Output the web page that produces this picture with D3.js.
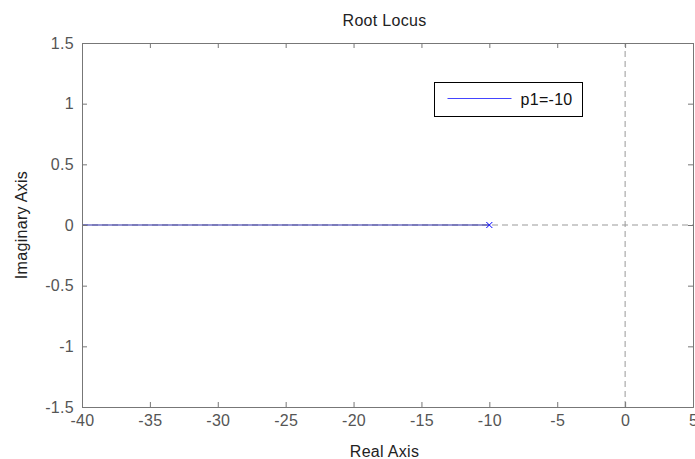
<!DOCTYPE html>
<html>
<head>
<meta charset="utf-8">
<script src="https://cdn.jsdelivr.net/npm/d3@7"></script>
<style>
  body { margin: 0; background: #fff; }
  text { font-family: "Liberation Sans", Arial, sans-serif; }
</style>
</head>
<body>
<div id="chart"></div>
<script>
// data
var xDomain = [-40, 5];
var yDomain = [-1.5, 1.5];
var xTicks = [-40, -35, -30, -25, -20, -15, -10, -5, 0, 5];
var yTicks = [-1.5, -1, -0.5, 0, 0.5, 1, 1.5];
var locusRe = [-40, -10];
var locusIm = [0, 0];
var poles = [{re: -10, im: 0}];
var legendLabel = 'p1=-10';

var W = 695, H = 459;
var m = {left: 82, right: 2, top: 43, bottom: 52};

var svg = d3.select('#chart').append('svg')
  .attr('width', W)
  .attr('height', H);

var x = d3.scaleLinear().domain(xDomain).range([m.left, W - m.right]);
var y = d3.scaleLinear().domain(yDomain).range([H - m.bottom, m.top]);

var axisCol = '#777';
var labelCol = '#555';
var fs = '16px', ls = '0.3px';
var fmt = function(d) { return String(d); };

// dashed zero lines
svg.append('line')
  .attr('x1', x(xDomain[0])).attr('x2', x(xDomain[1]))
  .attr('y1', y(0)).attr('y2', y(0))
  .attr('stroke', '#999').attr('stroke-dasharray', '6,4');
svg.append('line')
  .attr('x1', x(0)).attr('x2', x(0))
  .attr('y1', y(yDomain[0])).attr('y2', y(yDomain[1]))
  .attr('stroke', '#999').attr('stroke-dasharray', '6,4');

// locus
var locus = locusRe.map(function(d, i) { return [d, locusIm[i]]; });
svg.append('path')
  .datum(locus)
  .attr('d', d3.line().x(function(d) { return x(d[0]); }).y(function(d) { return y(d[1]); }))
  .attr('stroke', '#2b2ba8').attr('stroke-width', 1.2).attr('fill', 'none');

// pole markers
svg.selectAll('.pole').data(poles).enter().append('path')
  .attr('class', 'pole')
  .attr('d', function(d) {
    var cx = x(d.re), cy = y(d.im), s = 3;
    return 'M' + (cx - s) + ',' + (cy - s) + 'L' + (cx + s) + ',' + (cy + s) +
      'M' + (cx - s) + ',' + (cy + s) + 'L' + (cx + s) + ',' + (cy - s);
  })
  .attr('stroke', '#0000ff').attr('stroke-width', 1);

// axes box with inward ticks
var tick = 5;
var gBottom = svg.append('g').attr('transform', 'translate(0,' + (H - m.bottom) + ')')
  .call(d3.axisBottom(x).tickValues(xTicks).tickSize(-tick).tickPadding(8).tickFormat(fmt));
var gTop = svg.append('g').attr('transform', 'translate(0,' + m.top + ')')
  .call(d3.axisTop(x).tickValues(xTicks).tickSize(-tick).tickFormat(''));
var gLeft = svg.append('g').attr('transform', 'translate(' + m.left + ',0)')
  .call(d3.axisLeft(y).tickValues(yTicks).tickSize(-tick).tickPadding(8).tickFormat(fmt));
var gRight = svg.append('g').attr('transform', 'translate(' + (W - m.right) + ',0)')
  .call(d3.axisRight(y).tickValues(yTicks).tickSize(-tick).tickFormat(''));

[gBottom, gTop, gLeft, gRight].forEach(function(g) {
  g.select('.domain').attr('stroke', axisCol);
  g.selectAll('.tick line').attr('stroke', axisCol);
  g.selectAll('.tick text').attr('fill', labelCol).style('font-size', fs)
    .style('letter-spacing', ls)
    .style('font-family', '"Liberation Sans", Arial, sans-serif');
});

// titles
var mid = (x(xDomain[0]) + x(xDomain[1])) / 2 - 3;
svg.append('text')
  .attr('x', mid).attr('y', 26)
  .attr('text-anchor', 'middle').attr('fill', '#222').style('font-size', fs)
  .style('letter-spacing', ls)
  .text('Root Locus');
svg.append('text')
  .attr('x', mid).attr('y', 457)
  .attr('text-anchor', 'middle').attr('fill', '#222').style('font-size', fs)
  .style('letter-spacing', ls)
  .text('Real Axis');
svg.append('text')
  .attr('transform', 'translate(27,' + y(0) + ') rotate(-90)')
  .attr('text-anchor', 'middle').attr('fill', '#222').style('font-size', fs)
  .style('letter-spacing', ls)
  .text('Imaginary Axis');

// legend
var lg = svg.append('g').attr('transform', 'translate(434.5,82.5)');
lg.append('rect').attr('width', 148).attr('height', 34)
  .attr('fill', '#fff').attr('stroke', '#000');
lg.append('line').attr('x1', 13).attr('x2', 77).attr('y1', 16).attr('y2', 16)
  .attr('stroke', '#4444ff').attr('stroke-width', 1);
lg.append('text').attr('x', 86).attr('y', 22)
  .attr('fill', '#111').style('font-size', fs).style('letter-spacing', ls)
  .text(legendLabel);
</script>
</body>
</html>
